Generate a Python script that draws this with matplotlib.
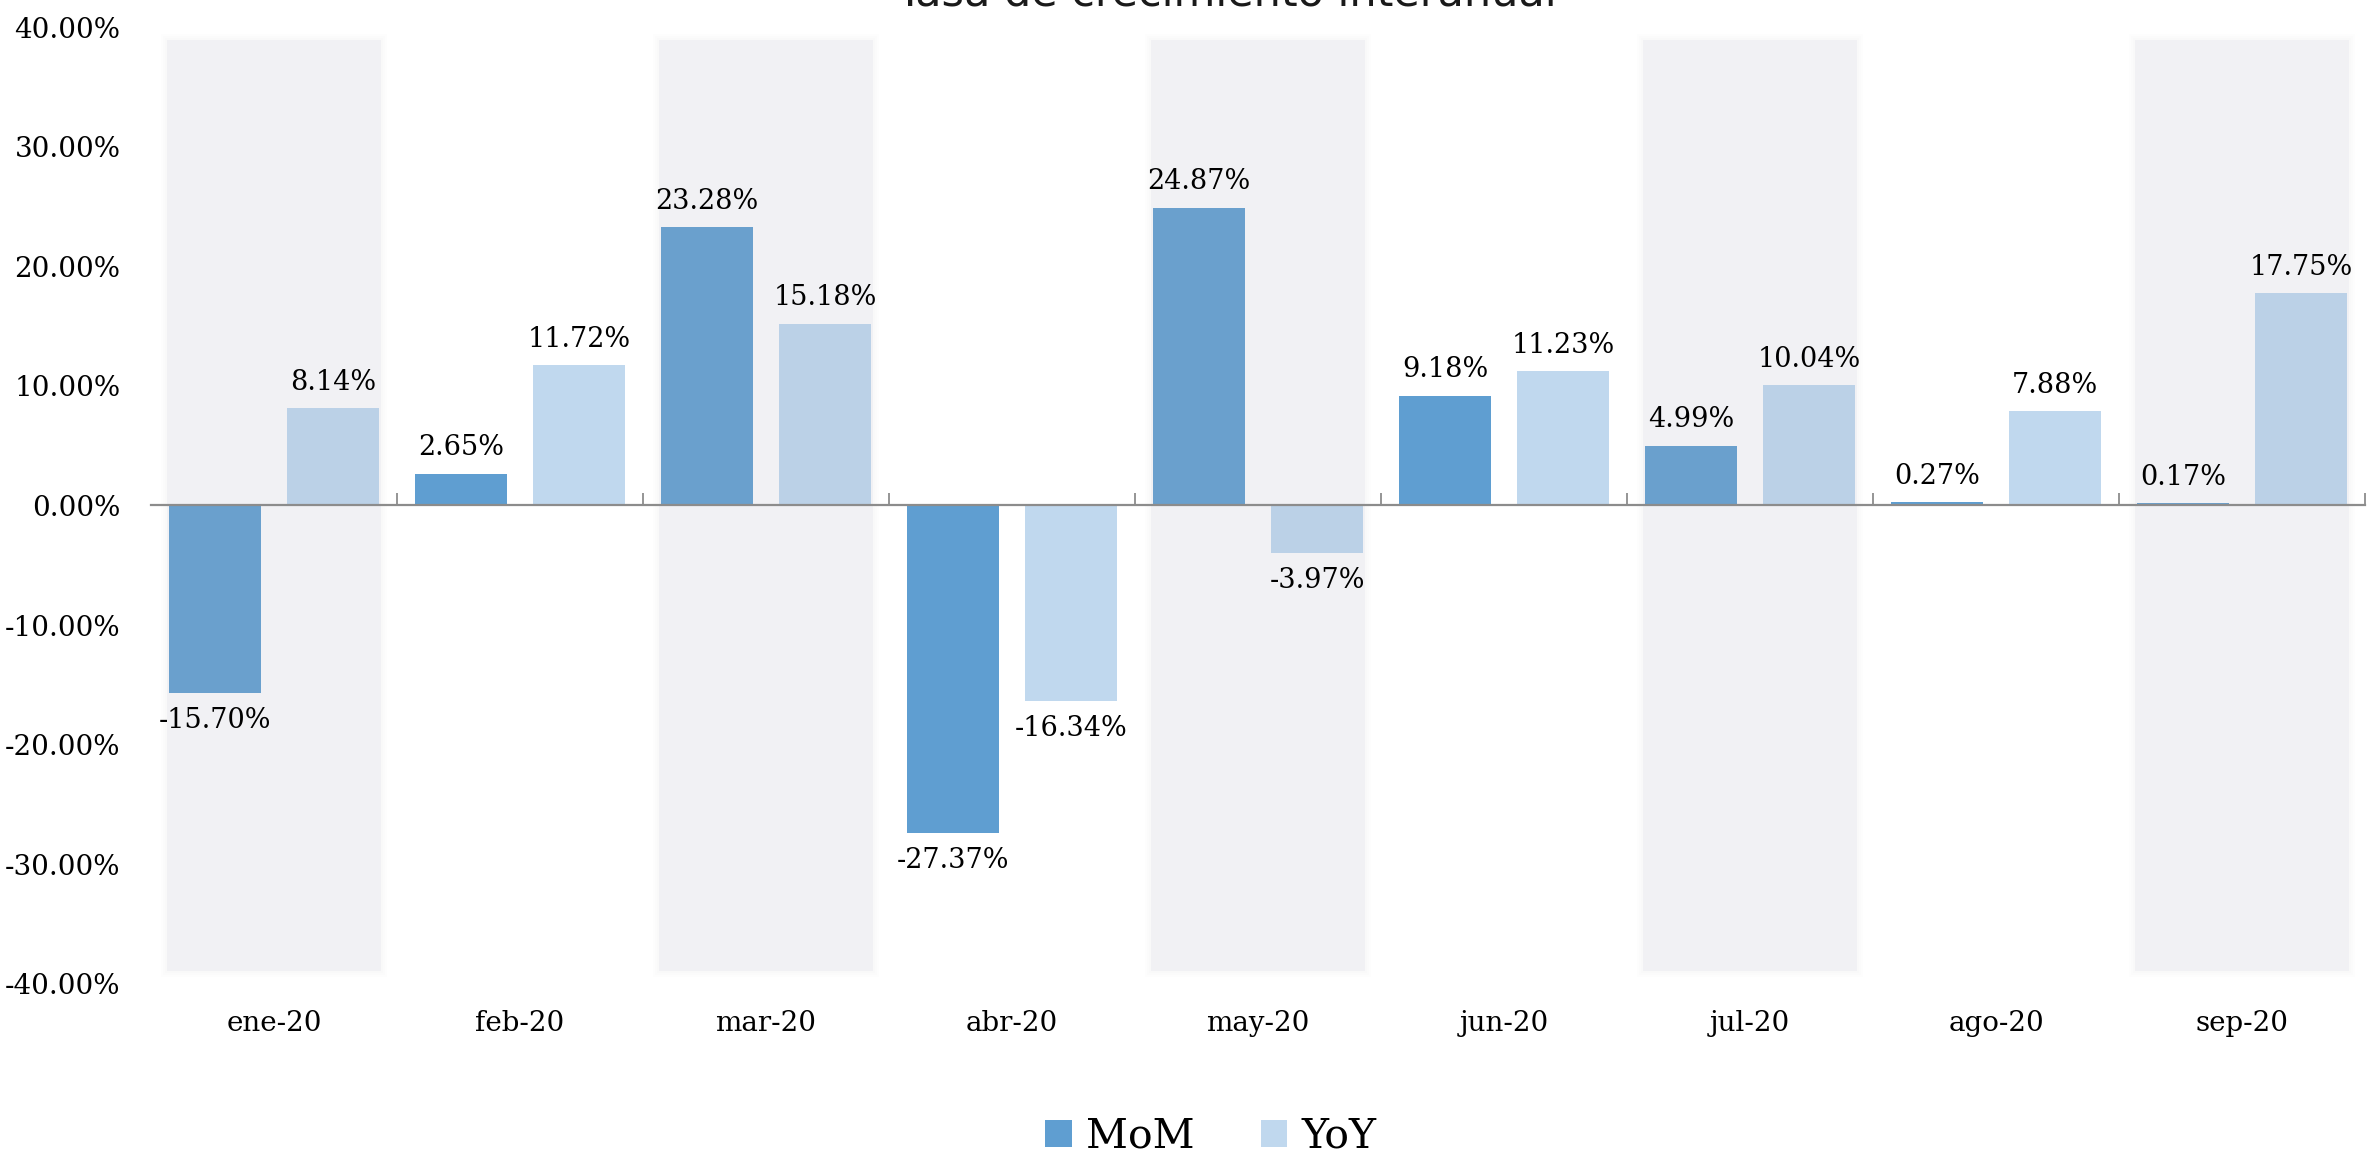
import matplotlib
matplotlib.use("Agg")
import matplotlib.pyplot as plt
from matplotlib.patches import Patch, Rectangle
import numpy as np

categories = ["ene-20", "feb-20", "mar-20", "abr-20", "may-20", "jun-20", "jul-20", "ago-20", "sep-20"]
mom = [-15.70, 2.65, 23.28, -27.37, 24.87, 9.18, 4.99, 0.27, 0.17]
yoy = [8.14, 11.72, 15.18, -16.34, -3.97, 11.23, 10.04, 7.88, 17.75]
series_names = ["MoM", "YoY"]
title = "Tasa de crecimiento interanual"

c_mom = "#5F9ED1"
c_yoy = "#C0D8EE"
font = "DejaVu Serif"

W, H = 2374, 1154
fig = plt.figure(figsize=(W / 100, H / 100), dpi=100)
ax = fig.add_axes([151 / W, 1 - 984 / H, (2365 - 151) / W, (984 - 27) / H])

x = np.arange(len(categories))
bw = 0.375
off = 0.24
b1 = ax.bar(x - off, mom, bw, color=c_mom, zorder=2)
b2 = ax.bar(x + off, yoy, bw, color=c_yoy, zorder=2)

# shaded bands on alternate categories (semi transparent over bars, soft edges)
layers = [(0.0, 0.10)] + [(g, 0.022) for g in (0.008, 0.016, 0.024)]
for i in range(0, len(categories), 2):
    for grow, a in layers:
        ax.add_patch(Rectangle((i - 0.435 - grow, -38.9 - grow * 20), 0.87 + 2 * grow,
                               77.8 + 2 * grow * 20, facecolor="#B4B8CC",
                               edgecolor="none", alpha=a, zorder=3))

def lab(v):
    return f"{v:.2f}%"

for bars, vals in ((b1, mom), (b2, yoy)):
    for r, v in zip(bars, vals):
        xc = r.get_x() + r.get_width() / 2
        if v >= 0:
            ax.annotate(lab(v), (xc, v), xytext=(0, 9), textcoords="offset points",
                        ha="center", va="bottom", fontsize=19.5, family=font, zorder=5)
        else:
            ax.annotate(lab(v), (xc, v), xytext=(0, -10), textcoords="offset points",
                        ha="center", va="top", fontsize=19.5, family=font, zorder=5)

ax.set_xlim(-0.5, len(categories) - 0.5)
ax.set_ylim(-40, 40)
ax.set_yticks(np.arange(-40, 41, 10))
ax.set_yticklabels([f"{t:.2f}%" for t in np.arange(-40, 41, 10)], family=font, fontsize=20)
ax.tick_params(axis="y", length=0, pad=22)
ax.set_xticks(x)
ax.set_xticklabels(categories, family=font, fontsize=20)
ax.tick_params(axis="x", length=0, pad=19)
for s in ax.spines.values():
    s.set_visible(False)

sec = ax.secondary_xaxis(0.5)
sec.set_xticks(np.arange(0.5, len(categories) - 0.4, 1.0))
sec.set_xticklabels([])
sec.tick_params(axis="x", direction="out", length=9, width=1.3, color="#8C8C8C")
for s in sec.spines.values():
    s.set_color("#8C8C8C")
    s.set_linewidth(1.6)
sec.set_zorder(4)

handles = [Patch(facecolor=c_mom), Patch(facecolor=c_yoy)]
fig.legend(handles, series_names, loc="lower center", bbox_to_anchor=(1211 / W, -0.02),
           ncol=2, frameon=False, prop={"family": font, "size": 29.5},
           handlelength=0.65, handleheight=0.65, handletextpad=0.35, columnspacing=1.6,
           borderpad=0.0)

fig.text(1226 / W, 1 - 6 / H, title, ha="center", va="baseline", fontsize=31,
         family="DejaVu Sans", color="#1A1A1A")

fig.savefig("out.png", dpi=100)
